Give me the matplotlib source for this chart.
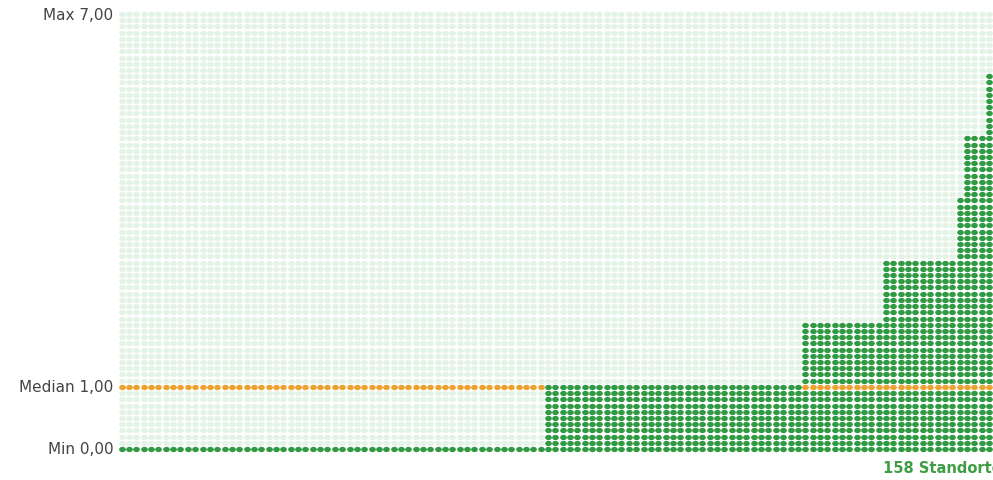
import numpy as np
import matplotlib
matplotlib.use("Agg")
import matplotlib.pyplot as plt
from matplotlib.path import Path

# Sorted location values: each level and how many locations sit at it
levels = [0, 1, 2, 3, 4, 5, 6, 7]
counts = [76, 47, 14, 13, 1, 4, 2, 1]
n_locations = 158
count_label = "158 Standorte"

values = np.repeat(levels, counts).astype(float)
v_min, v_med, v_max = values.min(), np.median(values), values.max()

def fmt(v):
    return f"{v:.2f}".replace(".", ",")

W, H = 993, 481
fig = plt.figure(figsize=(W / 100, H / 100), dpi=100)
fig.patch.set_facecolor("white")

# plot box in pixel coordinates (left, right, top row, bottom row)
px_l, px_r, px_t, px_b = 118, 1000, 15, 450
ax = fig.add_axes([px_l / W, (H - px_b) / H, (px_r - px_l) / W, (px_b - px_t) / H])
ax.set_xlim(0, n_locations)
ax.set_ylim(v_min, v_max)
ax.axis("off")

# dot matrix: fixed grid of columns, rows every 0.1
n_cols = 120
step = 0.1
col_x = (np.arange(n_cols) + 0.5) * n_locations / n_cols
row_y = np.round(np.arange(0, v_max + step / 2, step), 2)
col_val = values[np.clip(np.floor(col_x).astype(int), 0, n_locations - 1)]

XX, YY = np.meshgrid(col_x, row_y)
VV = np.broadcast_to(col_val, XX.shape)
filled = YY <= VV + 1e-9
median_row = np.isclose(YY, v_med) & ~np.isclose(VV, v_med)

# slightly wide oval dot
t = np.linspace(0, 2 * np.pi, 40)
dot = Path(np.column_stack([1.25 * np.cos(t), np.sin(t)]), closed=True)

light = "#e3f3e5"
green = "#2f9a42"
orange = "#eda12f"
size = 23

bg = ~filled & ~median_row
ax.scatter(XX[bg], YY[bg], s=size, marker=dot, color=light, linewidths=0, clip_on=False)
fg = filled & ~median_row
ax.scatter(XX[fg], YY[fg], s=size, marker=dot, color=green, linewidths=0, clip_on=False)
ax.scatter(XX[median_row], YY[median_row], s=size, marker=dot, color=orange,
           linewidths=0, clip_on=False)

# left labels for min / median / max
label_kw = dict(ha="right", va="center", fontsize=11, color="#444444",
                family="DejaVu Sans")
for name, v in (("Max", v_max), ("Median", v_med), ("Min", v_min)):
    ax.text(-0.8, v, f"{name} {fmt(v)}", transform=ax.transData, **label_kw)

fig.text(1002 / W, (H - 469) / H, count_label, ha="right", va="center",
         fontsize=10.5, fontweight="bold", color="#3f9e45", family="DejaVu Sans")

fig.savefig("out.png", dpi=100)
